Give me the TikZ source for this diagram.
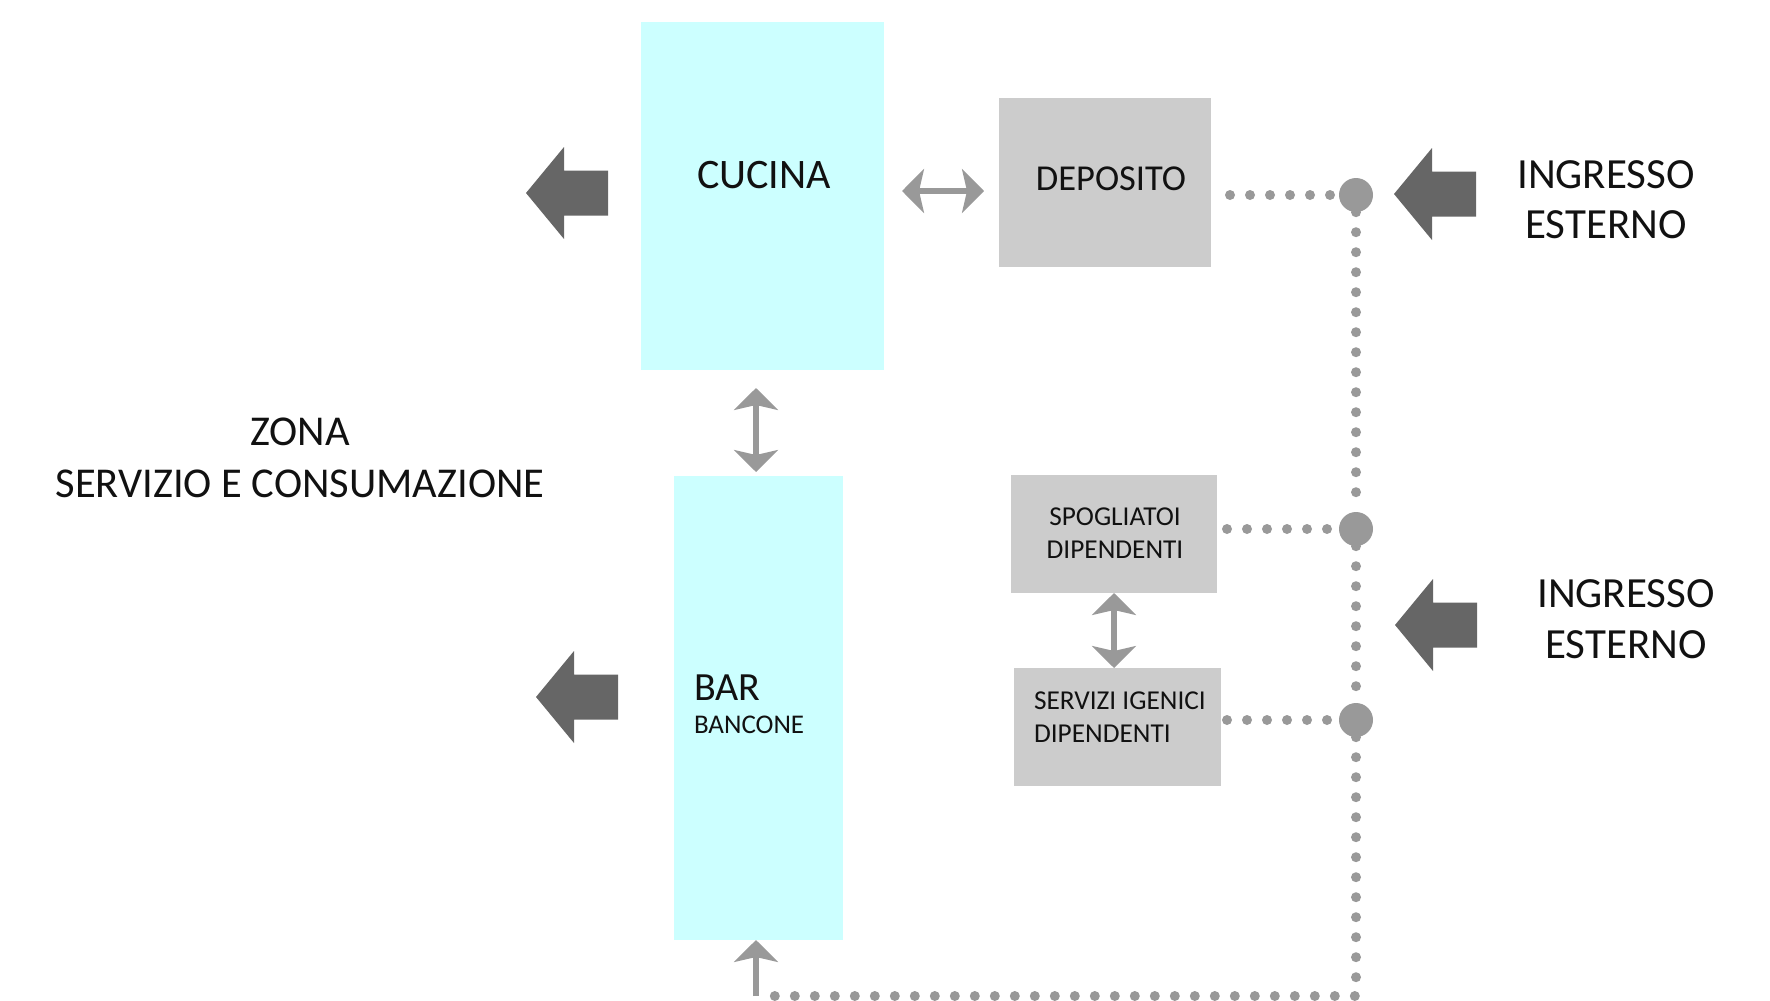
\documentclass[tikz,border=0pt]{standalone}
\usepackage{fontspec}
\setmainfont{Carlito}
\usetikzlibrary{arrows.meta}
\definecolor{cyanbox}{HTML}{CCFFFF}
\definecolor{graybox}{HTML}{CCCCCC}
\definecolor{darkarr}{HTML}{666666}
\definecolor{lightarr}{HTML}{999999}
\definecolor{txt}{HTML}{111111}
\newcommand\fsz[2]{\fontsize{#1}{#2}\selectfont}
\tikzset{
  roomc/.style={fill=cyanbox, draw=none, inner sep=0pt, outer sep=0pt},
  roomg/.style={fill=graybox, draw=none, inner sep=0pt, outer sep=0pt},
  lbl/.style={inner sep=0pt, outer sep=0pt, text=txt},
  bigdot/.style={circle, fill=lightarr, draw=none, minimum size=34pt, inner sep=0pt},
  dotline/.style={draw=lightarr, line width=10pt, line cap=round, dash pattern=on 0pt off 20pt},
  dbl/.style={draw=lightarr, line width=6pt,
    arrows={Stealth[length=22pt,width=44pt,inset=5pt]-Stealth[length=22pt,width=44pt,inset=5pt]}},
  onearr/.style={draw=lightarr, line width=6pt,
    arrows={-Stealth[length=22pt,width=44pt,inset=5pt]}},
  blockarrow/.pic={\fill[darkarr] (0,0) -- (38,-46) -- (38,-22.5) -- (82,-22.5) -- (82,22.5) -- (38,22.5) -- (38,46) -- cycle;}
}
\begin{document}
\begin{tikzpicture}[x=1pt,y=-1pt]
\useasboundingbox (0,0) rectangle (1770,1001);

% rooms
\node[roomc, minimum width=243pt, minimum height=348pt] (cuc) at (762.5,196) {};
\node[roomg, minimum width=212pt, minimum height=169pt] (dep) at (1105,182.5) {};
\node[roomc, minimum width=169pt, minimum height=464pt] (bar) at (758.5,708) {};
\node[roomg, minimum width=206pt, minimum height=118pt] (spo) at (1114,534) {};
\node[roomg, minimum width=207pt, minimum height=118pt] (ser) at (1117.5,727) {};

% texts
\node[lbl, anchor=base] (cucT) at (764,188) {\fsz{42}{50}CUCINA};
\node[lbl, anchor=base] (depT) at (1111,190) {\fsz{36.5}{42}DEPOSITO};
\node[lbl, anchor=base west] (barT) at (694,700) {\fsz{40}{46}BAR};
\node[lbl, anchor=base west] (banT) at (694,733) {\fsz{27}{32}BANCONE};
\node[lbl, anchor=base] (spoT) at (1115,525) {\fsz{27.3}{33}\begin{tabular}[t]{@{}c@{}}SPOGLIATOI\\DIPENDENTI\end{tabular}};
\node[lbl, anchor=base west] (serT) at (1034,709) {\fsz{27.3}{33}\begin{tabular}[t]{@{}l@{}}SERVIZI IGENICI\\DIPENDENTI\end{tabular}};
\node[lbl, anchor=base] (zona) at (300,445) {\fsz{42.5}{52}\begin{tabular}[t]{@{}c@{}}ZONA\\SERVIZIO E CONSUMAZIONE\end{tabular}};
\node[lbl, anchor=base] (ing1) at (1606,188) {\fsz{43}{50}\begin{tabular}[t]{@{}c@{}}INGRESSO\\ESTERNO\end{tabular}};
\node[lbl, anchor=base] (ing2) at (1626,607) {\fsz{43}{51}\begin{tabular}[t]{@{}c@{}}INGRESSO\\ESTERNO\end{tabular}};

% junction dots
\node[bigdot] (d1) at (1356,195) {};
\node[bigdot] (d2) at (1356,529) {};
\node[bigdot] (d3) at (1356,720) {};
\coordinate (corner) at (1356,996);
\coordinate (barin) at (756,996);

% dotted paths
\draw[dotline, shorten <=19pt] (d1 -| dep.east) -- (d1);
\draw[dotline, shorten <=10pt] (d2 -| spo.east) -- (d2);
\draw[dotline, shorten <=6pt] (d3 -| ser.east) -- (d3);
\draw[dotline] (d1) -- (d2) -- (d3) -- (corner) -- (barin);

% light double arrows
\draw[dbl, shorten <=18pt, shorten >=15pt] ([yshift=4pt]cuc.east |- d1) -- ([yshift=4pt]dep.west |- d1);
\draw[dbl, shorten <=18pt, shorten >=4pt] (cuc.south -| barin) -- (bar.north -| barin);
\draw[dbl] (spo.south) -- (ser.north -| spo.south);
\draw[onearr] (barin) -- (bar.south -| barin);

% dark block arrows
\pic at (526,193) {blockarrow};
\pic at (536,697) {blockarrow};
\pic at (1394,194) {blockarrow};
\pic at (1395,625) {blockarrow};
\end{tikzpicture}
\end{document}
